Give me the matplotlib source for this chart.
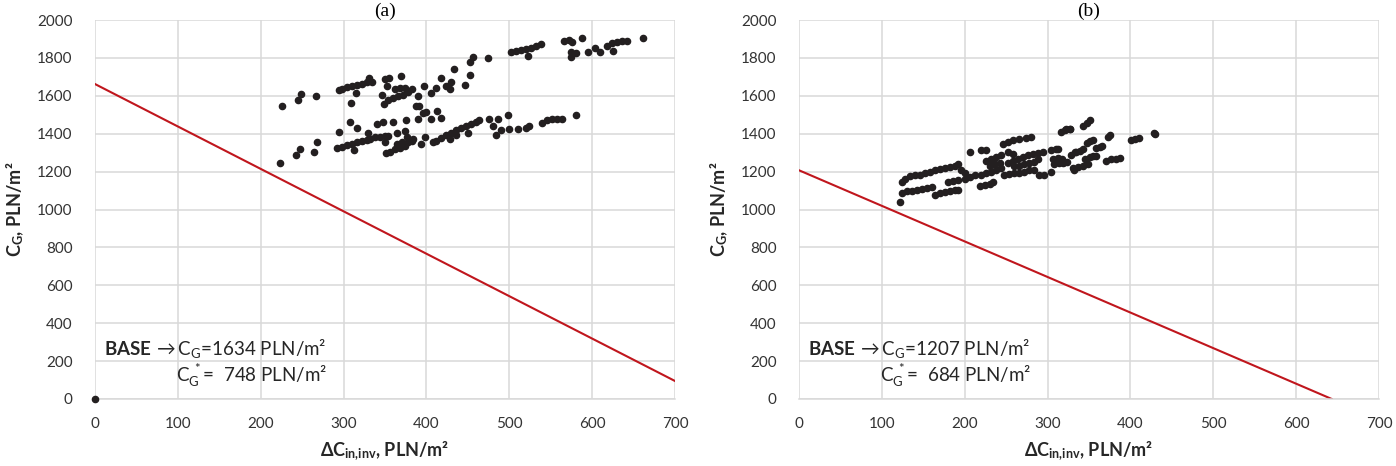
import matplotlib
matplotlib.use("Agg")
import matplotlib.pyplot as plt
import numpy as np

plt.rcParams["font.family"] = ["Lato", "DejaVu Sans"]
plt.rcParams["mathtext.fontset"] = "custom"
plt.rcParams["mathtext.rm"] = "Lato"
plt.rcParams["mathtext.it"] = "Lato"
plt.rcParams["mathtext.bf"] = "Lato:bold"

# (a) scatter of solutions
a_x = [0, 226, 245, 249, 267, 294, 298, 304, 310, 316, 322, 328, 331, 334, 315, 309,
       350, 355, 369, 352, 346, 349, 354, 360, 366, 372, 378, 383, 362, 368, 374,
       390, 397, 391, 406, 412, 418, 424, 430, 433, 428, 447, 453, 452, 456, 474,
       502, 508, 514, 520, 526, 532, 538, 522, 566, 572, 576, 588, 574, 580, 595,
       610, 625, 575, 604, 618, 624, 630, 636, 642, 661,
       223, 242, 247, 264, 268, 294, 308, 316, 292, 298, 304, 310, 316, 322, 328,
       332, 312, 329, 338, 344, 350, 354, 340, 348, 360, 375, 390, 405, 418, 388,
       396, 400, 413, 365, 374, 350, 351, 356, 362, 368, 374, 378, 382, 364, 370,
       376, 384, 394, 398, 408, 412, 418, 424, 430, 436, 442, 448, 454, 460, 464,
       428, 436, 450, 476, 480, 486, 484, 490, 500, 510, 520, 498, 524, 540, 546,
       552, 558, 564, 581]
a_y = [0, 1545, 1580, 1608, 1600, 1631, 1635, 1645, 1650, 1656, 1664, 1672, 1695, 1673, 1616, 1564,
       1689, 1695, 1706, 1650, 1602, 1555, 1580, 1589, 1597, 1602, 1622, 1637, 1635, 1641, 1641,
       1599, 1650, 1547, 1614, 1643, 1692, 1653, 1672, 1740, 1634, 1657, 1711, 1778, 1807, 1798,
       1832, 1836, 1840, 1846, 1851, 1861, 1875, 1811, 1888, 1894, 1884, 1907, 1832, 1826, 1830,
       1832, 1836, 1803, 1850, 1861, 1880, 1884, 1888, 1888, 1907,
       1248, 1287, 1320, 1306, 1358, 1408, 1464, 1431, 1325, 1329, 1338, 1344, 1354, 1364, 1369,
       1373, 1316, 1402, 1383, 1383, 1387, 1387, 1450, 1460, 1464, 1470, 1475, 1479, 1483, 1547,
       1508, 1514, 1522, 1402, 1412, 1354, 1296, 1306, 1321, 1325, 1335, 1354, 1364, 1344, 1354,
       1383, 1373, 1344, 1383, 1354, 1364, 1377, 1393, 1406, 1422, 1431, 1441, 1451, 1460, 1470,
       1373, 1393, 1402, 1479, 1441, 1479, 1393, 1422, 1425, 1427, 1431, 1499, 1441, 1456, 1470,
       1475, 1479, 1475, 1499]

# (b) scatter of solutions
b_x = [122, 124, 128, 134, 140, 146, 152, 158, 164, 170, 176, 182, 188, 192, 196, 200,
       124, 130, 136, 142, 148, 154, 160, 164, 170, 176, 182, 188, 192,
       180, 186, 192, 200, 206, 212, 206, 220, 226, 218, 224, 230, 234,
       220, 226, 232, 238, 244, 226, 232, 238, 244, 230, 236, 242,
       246, 252, 258, 265, 274, 280, 252, 258,
       252, 258, 264, 270, 276, 282, 288, 294,
       248, 254, 260, 266, 272, 278, 284, 290, 260, 266, 272, 278, 284, 288,
       304, 310, 306, 312, 318, 308, 314, 320, 304, 296, 316, 322, 327, 328, 334, 332,
       321, 327, 343, 347, 351, 313, 313, 333, 339, 343, 347, 351, 355, 359, 363, 366,
       373, 375, 319, 323, 345, 351, 355, 359, 331, 337, 343, 349, 371, 377, 383, 387,
       401, 406, 410, 429, 430]
b_y = [1038, 1143, 1162, 1175, 1181, 1181, 1190, 1200, 1210, 1213, 1219, 1225, 1232, 1238, 1210, 1194,
       1086, 1095, 1099, 1103, 1109, 1114, 1118, 1076, 1086, 1090, 1095, 1101, 1103,
       1143, 1149, 1156, 1162, 1171, 1181, 1301, 1314, 1314, 1124, 1130, 1137, 1143,
       1181, 1190, 1200, 1210, 1219, 1257, 1267, 1276, 1286, 1229, 1238, 1248,
       1347, 1354, 1366, 1370, 1377, 1381, 1305, 1295,
       1248, 1257, 1267, 1276, 1286, 1291, 1299, 1305,
       1181, 1187, 1190, 1194, 1200, 1206, 1210, 1181, 1229, 1232, 1238, 1248, 1251, 1267,
       1314, 1320, 1267, 1270, 1267, 1238, 1244, 1251, 1200, 1181, 1410, 1423, 1427, 1286, 1301, 1210,
       1419, 1427, 1443, 1458, 1472, 1317, 1268, 1301, 1311, 1317, 1350, 1361, 1365, 1326, 1332, 1336,
       1384, 1394, 1245, 1249, 1268, 1278, 1282, 1283, 1219, 1225, 1229, 1239, 1258, 1264, 1268, 1272,
       1365, 1373, 1379, 1404, 1400]

# red limit lines (end points)
a_line_x = [0, 700]
a_line_y = [1662, 95]
b_line_x = [0, 643]
b_line_y = [1207, 0]

panels = [
    ("(a)", a_x, a_y, a_line_x, a_line_y, "1634", " 748"),
    ("(b)", b_x, b_y, b_line_x, b_line_y, "1207", " 684"),
]

fig = plt.figure(figsize=(13.96, 4.66), dpi=100)
lefts = [95 / 1396, 799 / 1396]

for left, (title, xs, ys, lx, ly, cg, cgs) in zip(lefts, panels):
    ax = fig.add_axes([left, 67 / 466, 580 / 1396, 379 / 466])
    ax.set_xlim(0, 700)
    ax.set_ylim(0, 2000)
    ax.set_xticks(np.arange(0, 701, 100))
    ax.set_yticks(np.arange(0, 2001, 200))
    ax.grid(True, color="#d9d9d9", lw=1.1)
    ax.set_axisbelow(True)
    for s in ["top", "right", "left"]:
        ax.spines[s].set_visible(False)
    ax.spines["bottom"].set_color("#d9d9d9")
    ax.spines["bottom"].set_linewidth(1.1)
    ax.tick_params(length=0, labelsize=11, colors="#333333")
    ax.tick_params(axis="x", pad=13)
    ax.tick_params(axis="y", pad=16)
    ax.plot(lx, ly, color="#c0161d", lw=1.5, zorder=2)
    ax.scatter(xs, ys, s=20, color="#231f20", zorder=3, clip_on=False)
    ax.set_xlabel(r"$\mathbf{\Delta C}_{\mathbf{in{,}inv}}$, PLN/m²", fontsize=13,
                  fontweight="bold", color="#262626", labelpad=6)
    ax.set_ylabel(r"$\mathbf{C}_{\mathbf{G}}$, PLN/m²", fontsize=13,
                  fontweight="bold", color="#262626", labelpad=8)
    ax.set_title(title, family="Liberation Serif", fontsize=14, pad=3)
    ax.text(11, 266, r"$\mathbf{BASE}\,\rightarrow$C$_\mathrm{G}$=" + cg + " PLN/m²",
            fontsize=13.5, color="#262626", va="center")
    ax.text(98, 122, r"C$_\mathrm{G}^{\ *}$= " + cgs + " PLN/m²",
            fontsize=13.5, color="#262626", va="center")

fig.savefig("out.png", dpi=100)
